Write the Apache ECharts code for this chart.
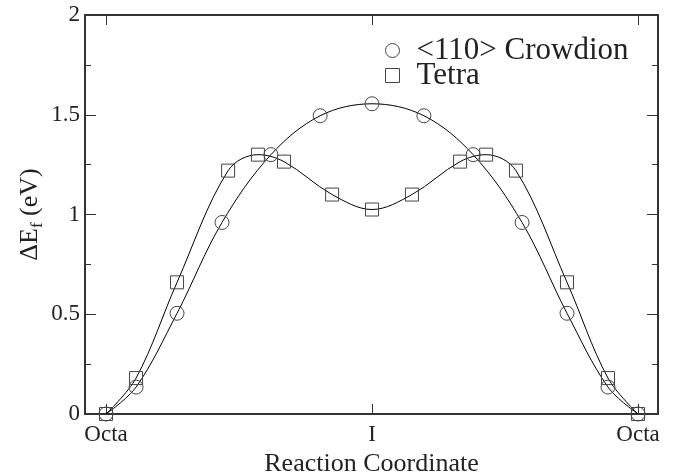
<!DOCTYPE html>
<html>
<head>
<meta charset="utf-8">
<script src="https://cdn.jsdelivr.net/npm/echarts@6/dist/echarts.min.js"></script>
<style>
  html, body { margin: 0; padding: 0; background: #fff; }
  #main { width: 674px; height: 472px; }
</style>
</head>
<body>
<div id="main"></div>
<script>
// reaction coordinate: 0 = Octa, 1 = I, 2 = Octa
const crowdionX = [0, 0.113, 0.267, 0.436, 0.620, 0.805, 1.0, 1.195, 1.380, 1.564, 1.733, 1.887, 2]
const crowdionY = [0, 0.135, 0.505, 0.96, 1.30, 1.495, 1.555, 1.495, 1.30, 0.96, 0.505, 0.135, 0]
const tetraX = [0, 0.113, 0.267, 0.459, 0.571, 0.669, 0.850, 1.0, 1.150, 1.331, 1.429, 1.541, 1.733, 1.887, 2]
const tetraY = [0, 0.18, 0.66, 1.22, 1.30, 1.265, 1.10, 1.025, 1.10, 1.265, 1.30, 1.22, 0.66, 0.18, 0]
const xTicks = [0, 1, 2]
const xTickLabels = ['Octa', 'I', 'Octa']

const font = 'Liberation Serif'
const axisColor = '#333'

const chart = echarts.init(document.getElementById('main'))

const xBase = {
  type: 'value',
  min: -0.079,
  max: 2.075,
  axisLine: {onZero: false, lineStyle: {color: axisColor, width: 2}},
  splitLine: {show: false},
  axisTick: {inside: true, length: 10, customValues: xTicks, lineStyle: {color: axisColor}}
}
const yBase = {
  type: 'value',
  min: 0,
  max: 2,
  interval: 0.5,
  axisLine: {show: true, onZero: false, lineStyle: {color: axisColor, width: 2}},
  splitLine: {show: false},
  axisTick: {inside: true, length: 11, lineStyle: {color: axisColor}},
  minorTick: {show: true, splitNumber: 2, length: 6, lineStyle: {color: axisColor}}
}

chart.setOption({
  animation: false,
  grid: {left: 85, right: 16, top: 15, bottom: 58, outerBoundsMode: 'none'},
  legend: {
    orient: 'vertical',
    left: 378,
    top: 30,
    itemWidth: 14,
    itemHeight: 14,
    itemGap: -6,
    textStyle: {fontFamily: font, fontSize: 31, color: '#222', padding: [0, 0, 0, 12]},
    itemStyle: {color: 'none', borderColor: '#444', borderWidth: 1},
    data: [
      {name: '<110> Crowdion', icon: 'circle'},
      {name: 'Tetra', icon: 'rect'}
    ]
  },
  xAxis: [
    Object.assign({}, xBase, {
      position: 'bottom',
      name: 'Reaction Coordinate',
      nameLocation: 'middle',
      nameGap: 36,
      nameTextStyle: {fontFamily: font, fontSize: 26, color: '#222'},
      axisLabel: {
        customValues: xTicks,
        margin: 9,
        fontFamily: font,
        fontSize: 23,
        color: '#222',
        formatter: v => xTickLabels[xTicks.indexOf(v)]
      }
    }),
    Object.assign({}, xBase, {position: 'top', axisLabel: {show: false}})
  ],
  yAxis: [
    Object.assign({}, yBase, {
      position: 'left',
      name: '{a|ΔE}{s|f}{a| (eV)}',
      nameLocation: 'middle',
      nameGap: 39,
      nameMoveOverlap: false,
      nameTextStyle: {
        rich: {
          a: {fontFamily: font, fontSize: 26, color: '#222'},
          s: {fontFamily: font, fontSize: 17, color: '#222', padding: [14, 0, 0, 0]}
        }
      },
      axisLabel: {
        margin: 5,
        fontFamily: font,
        fontSize: 23,
        color: '#222',
        formatter: v => String(v)
      }
    }),
    Object.assign({}, yBase, {position: 'right', axisLabel: {show: false}})
  ],
  series: [
    {
      name: '<110> Crowdion',
      type: 'line',
      smooth: 0.35,
      symbol: 'circle',
      symbolSize: 14,
      itemStyle: {color: 'none', borderColor: '#444', borderWidth: 1},
      lineStyle: {color: '#000', width: 1},
      data: crowdionX.map((x, i) => [x, crowdionY[i]])
    },
    {
      name: 'Tetra',
      type: 'line',
      smooth: 0.35,
      symbol: 'rect',
      symbolSize: 13,
      itemStyle: {color: 'none', borderColor: '#444', borderWidth: 1},
      lineStyle: {color: '#000', width: 1},
      data: tetraX.map((x, i) => [x, tetraY[i]])
    }
  ]
})
</script>
</body>
</html>
